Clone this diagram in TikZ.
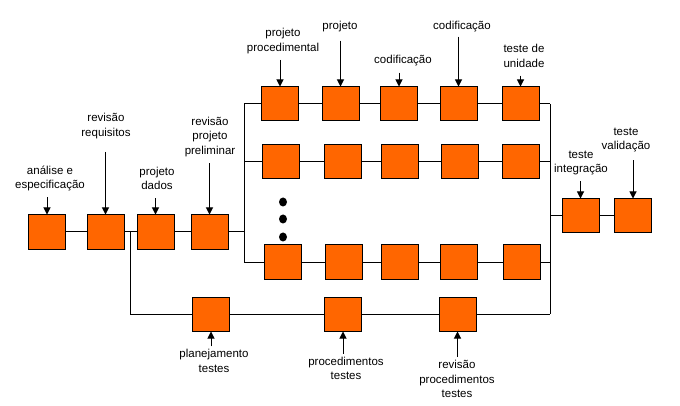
\documentclass[tikz,border=0pt]{standalone}
\usepackage{fontspec}
\setmainfont{Liberation Sans}
\usepackage{xcolor}
\definecolor{Orange}{RGB}{255,102,0}
\definecolor{Black}{RGB}{0,0,0}
\definecolor{White}{RGB}{255,255,255}
\usetikzlibrary{arrows.meta}

\tikzset{
	stage/.style={draw=Black, fill=Orange, line width=1pt, minimum width=37pt, minimum height=34pt, inner sep=0pt},
	phase/.style={align=center, inner sep=2pt, color=Black, font=\fontsize{11.5}{14.5}\selectfont},
	flow/.style={draw=Black, line width=1pt},
	pointer/.style={-{Triangle[length=7pt, width=7pt]}, draw=Black, line width=1pt, shorten <=4pt}
}

\begin{document}
\begin{tikzpicture}[x=1pt, y=-1pt]
		
		\useasboundingbox[fill=White] (0,0) rectangle (680,406);
		
		% Blocks
		\node[stage] (analise) at (47,232) {};
		\node[stage] (requisitos) at (105.5,232) {};
		\node[stage] (dados) at (155.5,232) {};
		\node[stage] (preliminar) at (209.5,232) {};
		
		\node[stage] (procedimental) at (280,104) {};
		\node[stage] (projeto) at (340.5,104) {};
		\node[stage] (codificacaoA) at (399,104) {};
		\node[stage] (codificacaoB) at (458.5,104) {};
		\node[stage] (unidade) at (520.5,104) {};
		
		\node[stage] (moduloA) at (280.5,162) {};
		\node[stage] (moduloB) at (343,162) {};
		\node[stage] (moduloC) at (400,162) {};
		\node[stage] (moduloD) at (460,162) {};
		\node[stage] (moduloE) at (521,162) {};
		
		\node[stage] (ultimoA) at (282.5,262) {};
		\node[stage] (ultimoB) at (344,262) {};
		\node[stage] (ultimoC) at (400,262) {};
		\node[stage] (ultimoD) at (459,262) {};
		\node[stage] (ultimoE) at (521.5,262) {};
		
		\node[stage] (integracao) at (580.5,216) {};
		\node[stage] (validacao) at (633,216) {};
		
		\node[stage] (planejamento) at (211,314) {};
		\node[stage] (proctestes) at (343,314) {};
		\node[stage] (revtestes) at (457.5,314) {};
		
		% Forks
		\coordinate (tap) at (130,232);
		\coordinate (forkL) at (244,232);
		\coordinate (forkLtop) at (244,104);
		\coordinate (forkLbot) at (244,262);
		\coordinate (forkRtop) at (550,104);
		\coordinate (forkRbot) at (550,314);
		
		% Lines
		\draw[flow] (analise) -- (requisitos) -- (dados) -- (preliminar) -- (forkL);
		\draw[flow] (forkLtop) -- (forkLbot);
		\draw[flow] (forkRtop) -- (forkRbot);
		
		\draw[flow] (forkLtop) -- (procedimental) -- (projeto) -- (codificacaoA) -- (codificacaoB) -- (unidade) -- (forkRtop);
		\draw[flow] (forkLtop |- moduloA) -- (moduloA) -- (moduloB) -- (moduloC) -- (moduloD) -- (moduloE) -- (forkRtop |- moduloE);
		\draw[flow] (forkLbot) -- (ultimoA) -- (ultimoB) -- (ultimoC) -- (ultimoD) -- (ultimoE) -- (forkRtop |- ultimoE);
		
		\draw[flow] (forkRtop |- integracao) -- (integracao) -- (validacao);
		\draw[flow] (tap) -- (tap |- planejamento) -- (planejamento) -- (proctestes) -- (revtestes) -- (forkRbot);
		
		% Dots
		\fill[Black] (283,202) ellipse (4pt and 4.5pt);
		\fill[Black] (283,219) ellipse (4pt and 4.5pt);
		\fill[Black] (283,237) ellipse (4pt and 4.5pt);
		
		% Names
		\node[phase] (lanalise) at (50,178.5) {análise e\\especificação};
		\node[phase] (lrequisitos) at (106,126) {revisão\\requisitos};
		\node[phase] (ldados) at (157,178.5) {projeto\\dados};
		\node[phase] (lpreliminar) at (210,137) {revisão\\projeto\\preliminar};
		
		\node[phase] (lprocedimental) at (283,41) {projeto\\procedimental};
		\node[phase] (lprojeto) at (340,27) {projeto};
		\node[phase] (lcodificacaoA) at (403,61) {codificação};
		\node[phase] (lcodificacaoB) at (462,27) {codificação};
		\node[phase] (lunidade) at (524,56) {teste de\\unidade};
		
		\node[phase] (lintegracao) at (581,163) {teste\\integração};
		\node[phase] (lvalidacao) at (626,140) {teste\\validação};
		
		\node[phase] (lplanejamento) at (214,361) {planejamento\\testes};
		\node[phase] (lproctestes) at (346,368.5) {procedimentos\\testes};
		\node[phase] (lrevtestes) at (457,379) {revisão\\procedimentos\\testes};
		
		% Arrows
		\draw[pointer] (analise.north |- lanalise.south) -- (analise.north);
		\draw[pointer, shorten <=11pt] (requisitos.north |- lrequisitos.south) -- (requisitos.north);
		\draw[pointer, shorten <=6pt] (dados.north |- ldados.south) -- (dados.north);
		\draw[pointer] (preliminar.north |- lpreliminar.south) -- (preliminar.north);
		
		\draw[pointer] (procedimental.north |- lprocedimental.south) -- (procedimental.north);
		\draw[pointer, shorten <=6pt] (projeto.north |- lprojeto.south) -- (projeto.north);
		\draw[pointer] (codificacaoA.north |- lcodificacaoA.south) -- (codificacaoA.north);
		\draw[pointer, shorten <=2pt] (codificacaoB.north |- lcodificacaoB.south) -- (codificacaoB.north);
		\draw[pointer, shorten <=6pt] (unidade.north |- lunidade.south) -- (unidade.north);
		
		\draw[pointer] (integracao.north |- lintegracao.south) -- (integracao.north);
		\draw[pointer, shorten <=6pt] (validacao.north |- lvalidacao.south) -- (validacao.north);
		
		\draw[pointer, shorten <=1pt] (planejamento.south |- lplanejamento.north) -- (planejamento.south);
		\draw[pointer, shorten <=1pt] (proctestes.south |- lproctestes.north) -- (proctestes.south);
		\draw[pointer, shorten <=1pt] (revtestes.south |- lrevtestes.north) -- (revtestes.south);
		
	\end{tikzpicture}
\end{document}
